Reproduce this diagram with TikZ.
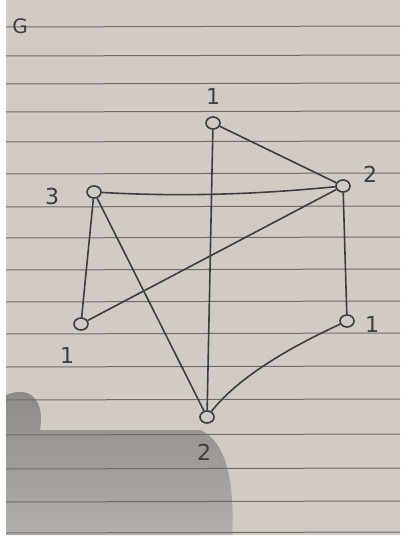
\documentclass[tikz,border=0pt]{standalone}
\usepackage{fontspec}
\setmainfont{DejaVu Sans}
\usetikzlibrary{shapes.geometric}
\begin{document}
\begin{tikzpicture}[x=1pt,y=-1pt,
  vtx/.style={ellipse,draw=pencil,line width=1.6pt,minimum width=14pt,minimum height=12pt,inner sep=0pt,fill=paper},
  lbl/.style={text=pencil,font=\fontsize{22}{24}\selectfont,inner sep=0pt},
  edge/.style={draw=pencil,line width=1.6pt}]
\definecolor{paper}{RGB}{210,203,196}
\definecolor{pencil}{RGB}{62,62,64}
\definecolor{rule}{RGB}{112,108,104}
\definecolor{shade}{RGB}{130,100,82}
\useasboundingbox (0,0) rectangle (403,540);
\fill[white] (0,0) rectangle (403,540);
\fill[paper] (6,0) rectangle (400,535);
\fill[shade,opacity=0.3] (6,395) .. controls (30,385) and (45,400) .. (40,430) -- (200,430) .. controls (225,440) and (235,480) .. (232,535) -- (6,535) -- cycle;
\foreach \yy in {27,56,84,112,142,174,207,238,270,302,334,367,400,435,469,502,533}
  \draw[rule,line width=1pt] (6,\yy) -- (400,\yy-1);
\node[text=pencil,font=\fontsize{20}{22}\selectfont] (g) at (20,26) {G};
\node[vtx] (a) at (213,123) {};
\node[vtx] (b) at (343,186) {};
\node[vtx] (c) at (94,192) {};
\node[vtx] (d) at (81,324) {};
\node[vtx] (e) at (347,321) {};
\node[vtx] (f) at (207,417) {};
\node[lbl] (la) at (213,96) {1};
\node[lbl] (lb) at (370,174) {2};
\node[lbl] (lc) at (52,196) {3};
\node[lbl] (ld) at (67,355) {1};
\node[lbl] (le) at (372,324) {1};
\node[lbl] (lf) at (204,452) {2};
\draw[edge] (a) -- (b);
\draw[edge] (a) -- (f);
\draw[edge] (c) .. controls (200,198) and (280,192) .. (b);
\draw[edge] (c) -- (d);
\draw[edge] (c) -- (f);
\draw[edge] (d) -- (b);
\draw[edge] (b) -- (e);
\draw[edge] (e) .. controls (295,345) and (240,375) .. (f);
\end{tikzpicture}
\end{document}
